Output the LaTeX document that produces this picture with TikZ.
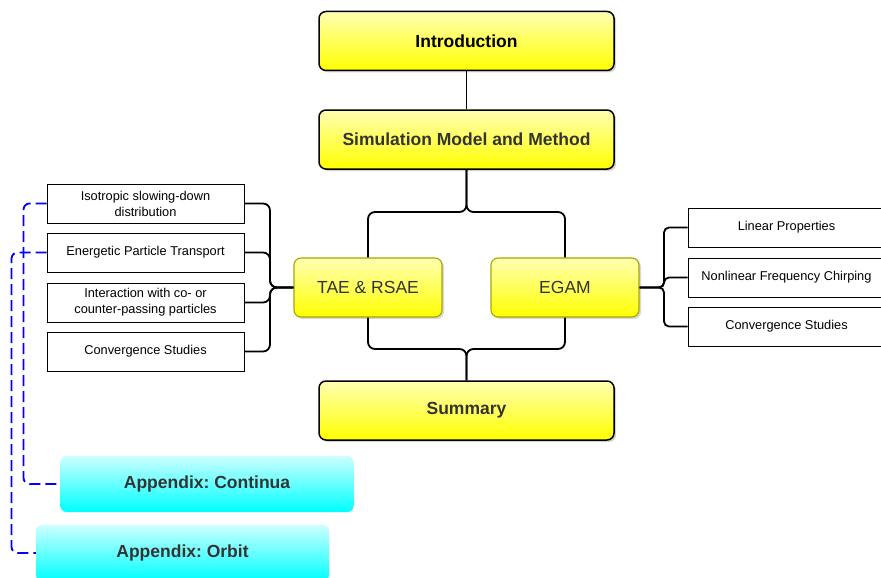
\documentclass[tikz,border=0pt]{standalone}
\usepackage{fontspec}
\setmainfont{Liberation Sans}
\usetikzlibrary{shadows}
\definecolor{boxedge}{HTML}{A6A600}
\definecolor{txtgray}{HTML}{333333}
\frenchspacing
\begin{document}
\begin{tikzpicture}[x=1pt,y=-1pt,
	chapter/.style={draw=black, line width=1.5pt, rounded corners=7pt, top color=yellow!30!white, bottom color=yellow, minimum width=295pt, minimum height=59pt, font=\fontsize{17.5}{20}\selectfont\bfseries, text=txtgray, drop shadow={shadow xshift=2pt, shadow yshift=-2pt, opacity=0.35}},
	part/.style={draw=boxedge, line width=1.1pt, rounded corners=7pt, top color=yellow!30!white, bottom color=yellow, minimum width=148pt, minimum height=59pt, font=\fontsize{17.5}{20}\selectfont, text=txtgray, drop shadow={shadow xshift=2pt, shadow yshift=-2pt, opacity=0.3}},
	topic/.style={draw=black, line width=0.9pt, fill=white, minimum width=197pt, minimum height=39pt, align=center, font=\fontsize{12.8}{16}\selectfont},
	appendix/.style={rounded corners=6pt, top color=cyan!20!white, bottom color=cyan, minimum width=293pt, minimum height=56pt, font=\fontsize{17.5}{20}\selectfont\bfseries, text=txtgray},
	link/.style={line width=1.8pt, rounded corners=7pt},
	aux/.style={blue, line width=1.8pt, dash pattern=on 11pt off 5pt, rounded corners=6pt}]
	\useasboundingbox (0,0) rectangle (881,578);
	
	%main chapters
	\node[chapter, text=black] (intro) at (466.5,41) {Introduction};
	\node[chapter] (model) at (466.5,139.5) {Simulation Model and Method};
	\node[part] (tae) at (368,287.5) {TAE \& RSAE};
	\node[part] (egam) at (565,287.5) {EGAM};
	\node[chapter] (summary) at (466.5,410.5) {Summary};
	
	%topics of TAE & RSAE
	\node[topic] (iso) at (145.5,203.5) {Isotropic slowing-down\\distribution};
	\node[topic] (transport) at (145.5,252.5) {Energetic Particle Transport};
	\node[topic] (passing) at (145.5,302.5) {Interaction with co- or\\counter-passing particles};
	\node[topic] (lconv) at (145.5,351.5) {Convergence Studies};
	
	%topics of EGAM
	\node[topic] (linear) at (786.5,227.5) {Linear Properties};
	\node[topic] (chirp) at (786.5,277.5) {Nonlinear Frequency Chirping};
	\node[topic] (rconv) at (786.5,326.5) {Convergence Studies};
	
	%appendices
	\node[appendix] (continua) at (207,484) {Appendix: Continua};
	\node[appendix] (orbit) at (182.5,553) {Appendix: Orbit};
	
	%links
	\coordinate (split) at (466.5,212);
	\coordinate (merge) at (466.5,349);
	\coordinate (lhub) at (270,287.5);
	\coordinate (rhub) at (664,287.5);
	\draw[link] (intro.south) -- (model.north);
	\draw[link] (model.south) -- (split) -| (tae.north);
	\draw[link] (model.south) -- (split) -| (egam.north);
	\draw[link] (tae.south) |- (merge) -- (summary.north);
	\draw[link] (egam.south) |- (merge) -- (summary.north);
	\foreach \t in {iso,transport,passing,lconv}
		\draw[link] (tae.west) -- (lhub) |- (\t.east);
	\foreach \t in {linear,chirp,rconv}
		\draw[link, rounded corners=5pt] (egam.east) -- (rhub) |- (\t.west);
	
	%appendix links
	\draw[aux] (iso.west) -- ++(-23,0) |- (continua.west);
	\draw[aux] (transport.west) -- ++(-35,0) |- (orbit.west);
\end{tikzpicture}
\end{document}
